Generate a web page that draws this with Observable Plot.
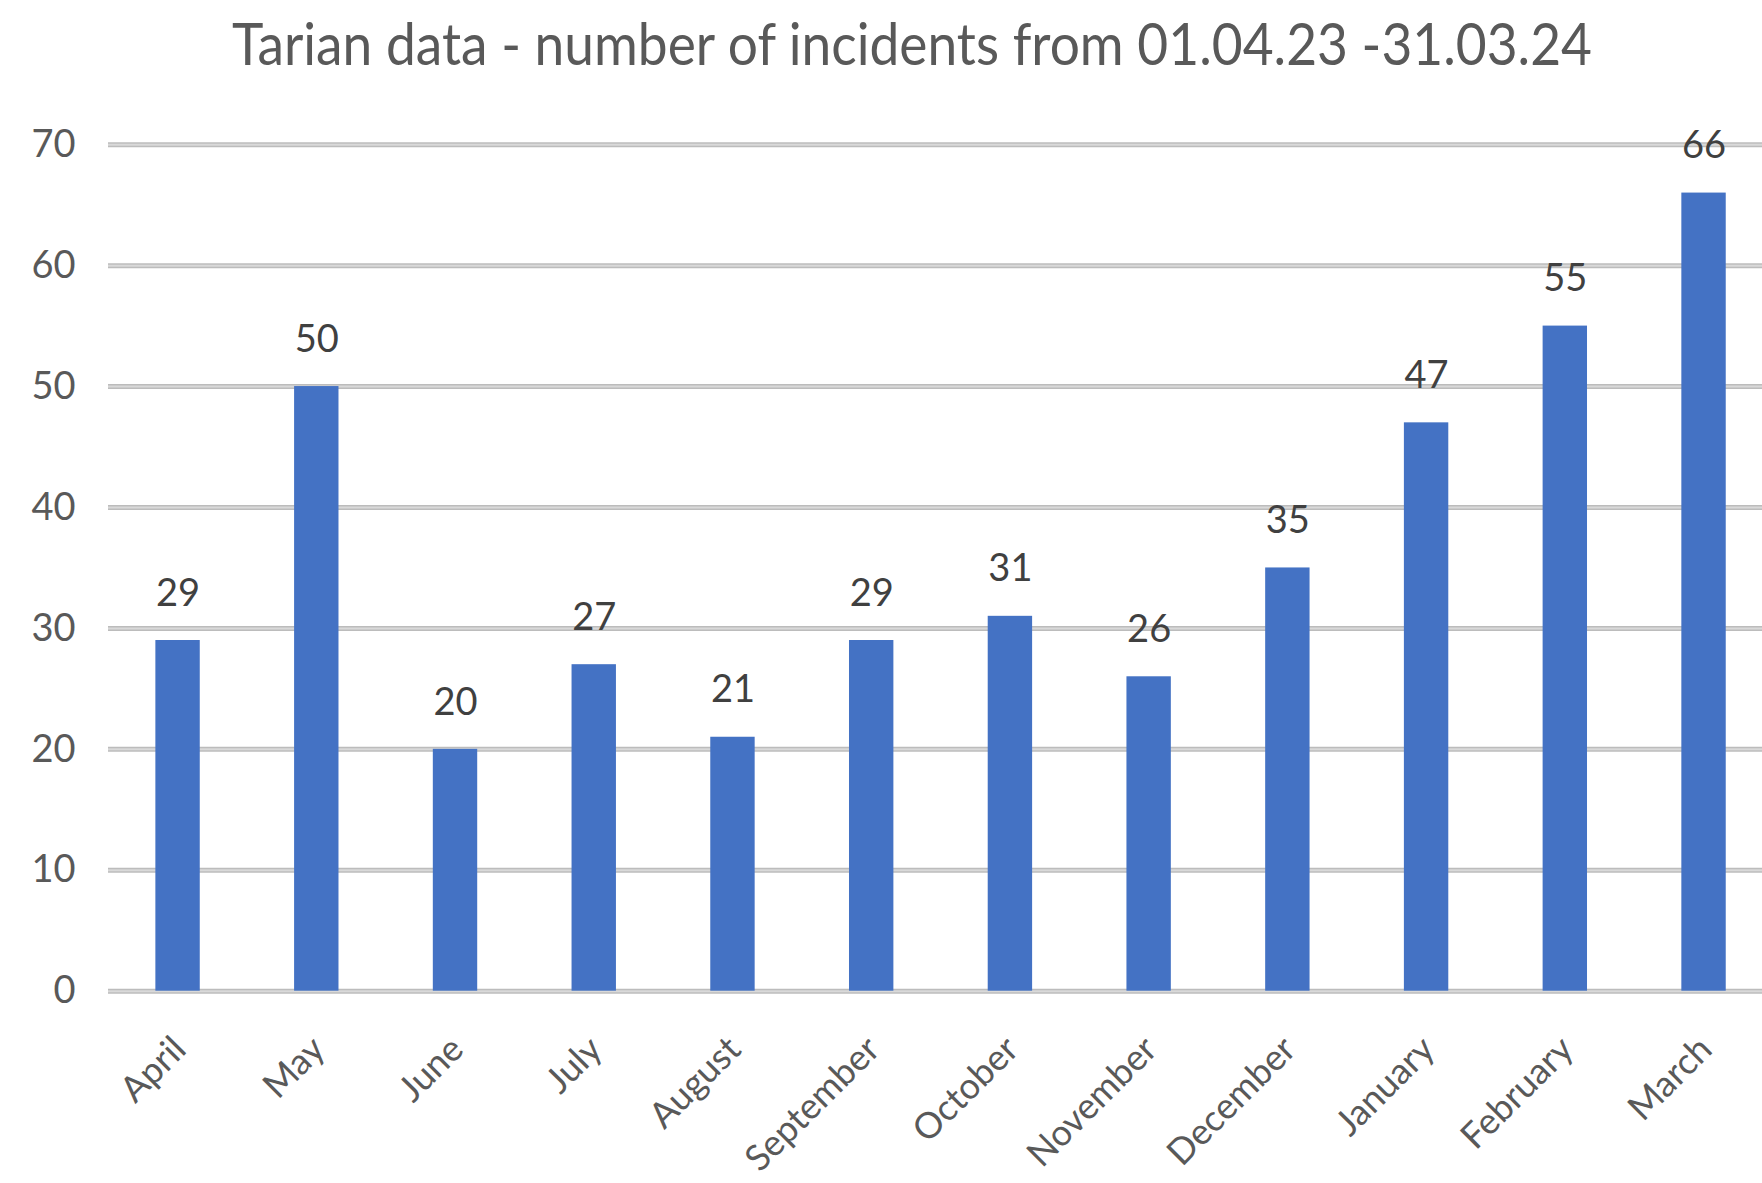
<!DOCTYPE html>
<html><head><meta charset="utf-8">
<script src="https://cdn.jsdelivr.net/npm/d3@7"></script>
<script src="https://cdn.jsdelivr.net/npm/@observablehq/plot@0.6"></script>
<style>
html,body{margin:0;padding:0;background:#fff;}
#wrap{position:relative;width:1762px;height:1183px;overflow:hidden;background:#fff;}
#title{position:absolute;left:232px;top:7px;font-family:Lato,sans-serif;font-size:58.6px;line-height:1.2;color:#595959;white-space:nowrap;transform-origin:0 0;}
#chart{position:absolute;left:0;top:100px;}
</style></head><body>
<div id="wrap"><div id="title">Tarian data - number of incidents from 01.04.23 -31.03.24</div><div id="chart"></div></div>
<script>
const months = ["April","May","June","July","August","September","October","November","December","January","February","March"];
const incidents = [29,50,20,27,21,29,31,26,35,47,55,66];
const yTicks = [0,10,20,30,40,50,60,70];
const data = months.map((m,i)=>({month:m, value:incidents[i]}));

const plot = Plot.plot({
  width:1762, height:1083,
  marginLeft:108, marginRight:0, marginTop:44, marginBottom:192,
  style:{fontFamily:"Lato, sans-serif", fontSize:"38px", color:"#595959", background:"#fff", overflow:"visible"},
  x:{domain:months, range:[108.2,1772.9], paddingInner:0.68, paddingOuter:0.34, round:false, axis:null},
  y:{domain:[0,70], range:[890.7,44.2], axis:null},
  marks:[
    Plot.ruleY(yTicks,{stroke:"#bcbcbc",strokeWidth:5}),
    Plot.ruleY(yTicks,{stroke:"#d9d9d9",strokeWidth:2}),
    Plot.axisY({ticks:yTicks, tickSize:0, tickPadding:33, fontSize:38, fill:"#595959", label:null}),
    Plot.barY(data,{x:"month",y:"value",fill:"#4472C4"}),
    Plot.text(data,{x:"month",y:"value",text:d=>String(d.value),dy:-47,lineAnchor:"middle",fontSize:38,fill:"#404040"}),
    Plot.text(months,{x:d=>d, frameAnchor:"bottom", rotate:-45, textAnchor:"end", lineAnchor:"bottom", dx:10, dy:60, fontSize:36, fill:"#595959"})
  ]
});
document.getElementById("chart").appendChild(plot);
const t = document.getElementById("title");
const w = t.getBoundingClientRect().width;
t.style.transform = `scaleX(${1360/w})`;
</script>
</body></html>
